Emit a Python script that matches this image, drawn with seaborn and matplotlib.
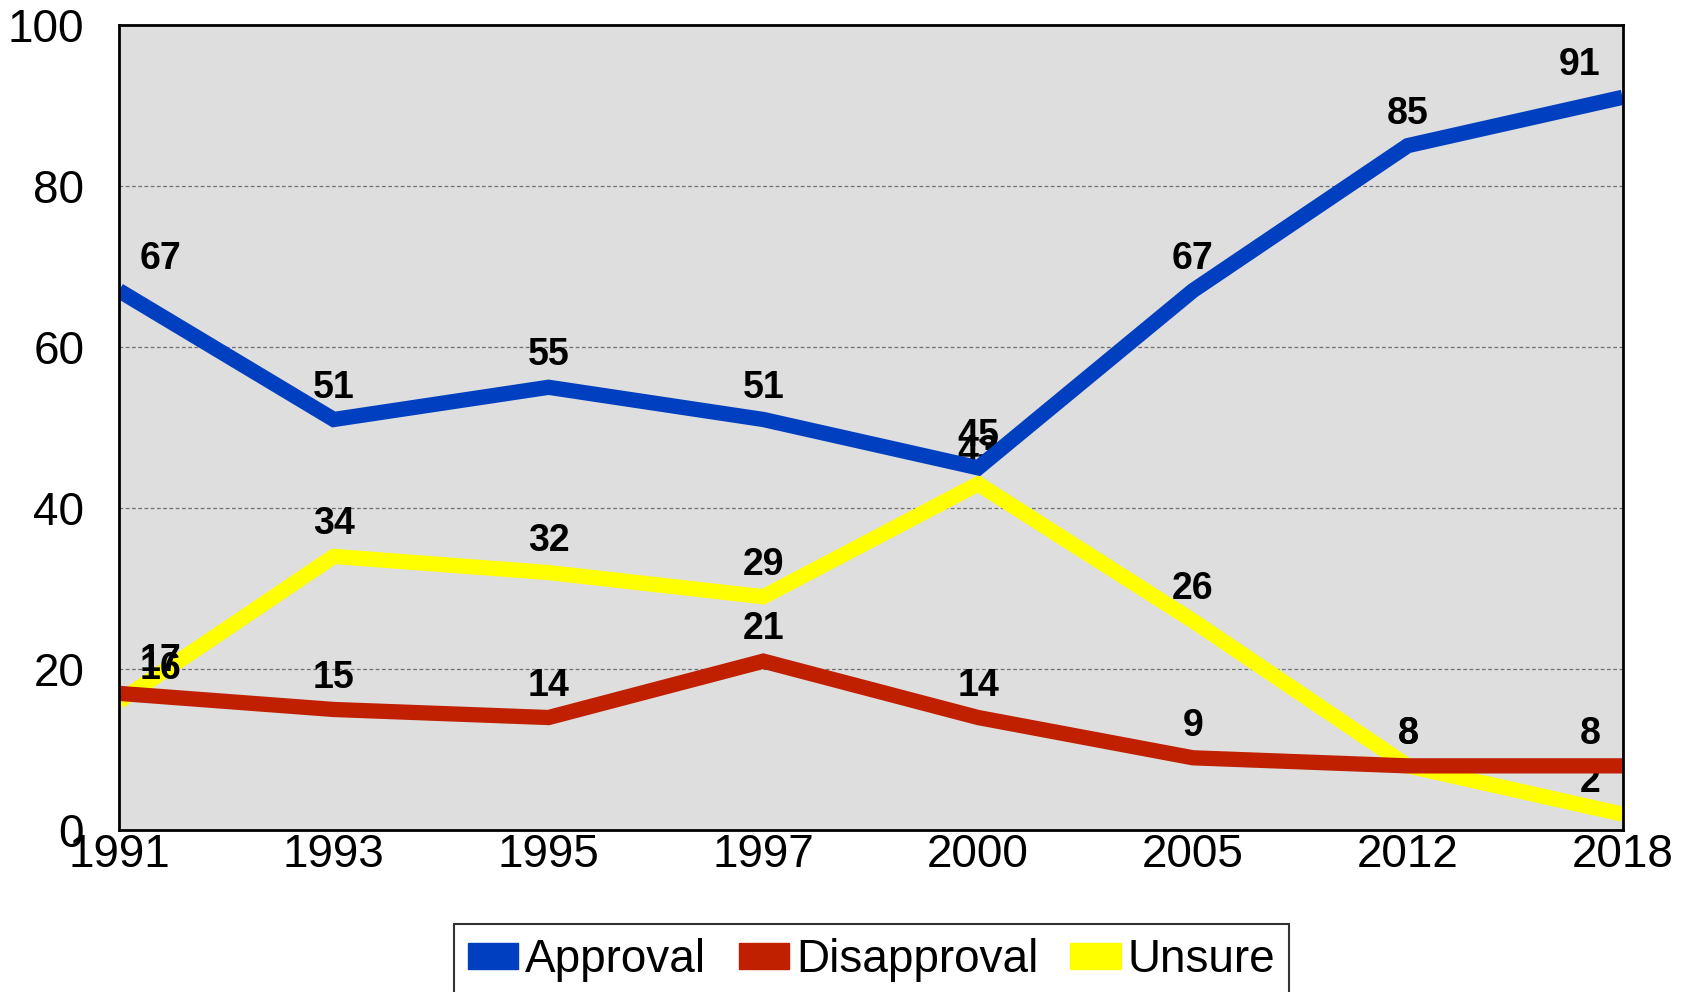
import matplotlib
matplotlib.use("Agg")
import matplotlib.pyplot as plt
import seaborn as sns
import pandas as pd
from matplotlib.patches import Patch

years = ["1991", "1993", "1995", "1997", "2000", "2005", "2012", "2018"]
approval = [67, 51, 55, 51, 45, 67, 85, 91]
disapproval = [17, 15, 14, 21, 14, 9, 8, 8]
unsure = [16, 34, 32, 29, 43, 26, 8, 2]

series_names = ["Approval", "Disapproval", "Unsure"]
series_vals = [approval, disapproval, unsure]
colors = {"Approval": "#0040C0", "Disapproval": "#C02000", "Unsure": "#FFFF00"}

rows = []
for name, vals in zip(series_names, series_vals):
    for i, (y, v) in enumerate(zip(years, vals)):
        rows.append({"idx": i, "year": y, "value": v, "series": name})
df = pd.DataFrame(rows)

sns.set_theme(style="white")
plt.rcParams['font.family'] = ['Liberation Sans', 'DejaVu Sans']
plt.rcParams['text.color'] = 'black'

fig = plt.figure(figsize=(16.99, 9.92), dpi=100)
ax = fig.add_axes([0.070, 0.163, 0.885, 0.812])
ax.set_facecolor("#DEDEDE")

zorders = {"Approval": 3, "Disapproval": 3, "Unsure": 2}
for name in series_names:
    sub = df[df.series == name]
    sns.lineplot(data=sub, x="idx", y="value", color=colors[name], lw=11,
                 ax=ax, legend=False, zorder=zorders[name], sort=False)
    ax.lines[-1].set_solid_capstyle("butt")
    ax.lines[-1].set_solid_joinstyle("miter")

n = len(years)
for name, vals in zip(series_names, series_vals):
    tz = 2.5 if name == "Unsure" else 4
    for i, v in enumerate(vals):
        if i == 0:
            dx, ha = 15, "left"
        elif i == n - 1:
            dx, ha = -16, "right"
        else:
            dx, ha = 0, "center"
        ax.annotate(str(v), (i, v), xytext=(dx, 23), textcoords="offset points",
                    ha=ha, va="center", fontsize=27, fontweight="bold",
                    color="black", zorder=tz, annotation_clip=False)

ax.set_xlim(0, n - 1)
ax.set_ylim(0, 100)
ax.set_xticks(range(n))
ax.set_xticklabels(years)
ax.set_yticks([0, 20, 40, 60, 80, 100])
ax.tick_params(axis="both", labelsize=33, length=0, labelcolor="black")
ax.tick_params(axis="x", pad=2)
ax.tick_params(axis="y", pad=25)
ax.set_xlabel("")
ax.set_ylabel("")
for y in [20, 40, 60, 80]:
    ax.axhline(y, color="#707070", lw=0.9, ls=(0, (3, 2)), zorder=1)
for sp in ax.spines.values():
    sp.set_visible(True)
    sp.set_color("black")
    sp.set_linewidth(2)
    sp.set_zorder(6)

handles = [Patch(facecolor=colors[s], edgecolor=colors[s], label=s) for s in series_names]
leg = fig.legend(handles=handles, loc="lower center", bbox_to_anchor=(0.513, -0.004),
                 ncol=3, frameon=True, fancybox=False, edgecolor="black",
                 prop={"family": ["Liberation Sans Narrow", "Liberation Sans"], "size": 33},
                 handlelength=1.1, handleheight=0.5, handletextpad=0.15,
                 columnspacing=0.7, borderpad=0.3, borderaxespad=0.0,
                 labelcolor="black")
leg.get_frame().set_linewidth(1.5)

fig.savefig("out.png", dpi=100)
